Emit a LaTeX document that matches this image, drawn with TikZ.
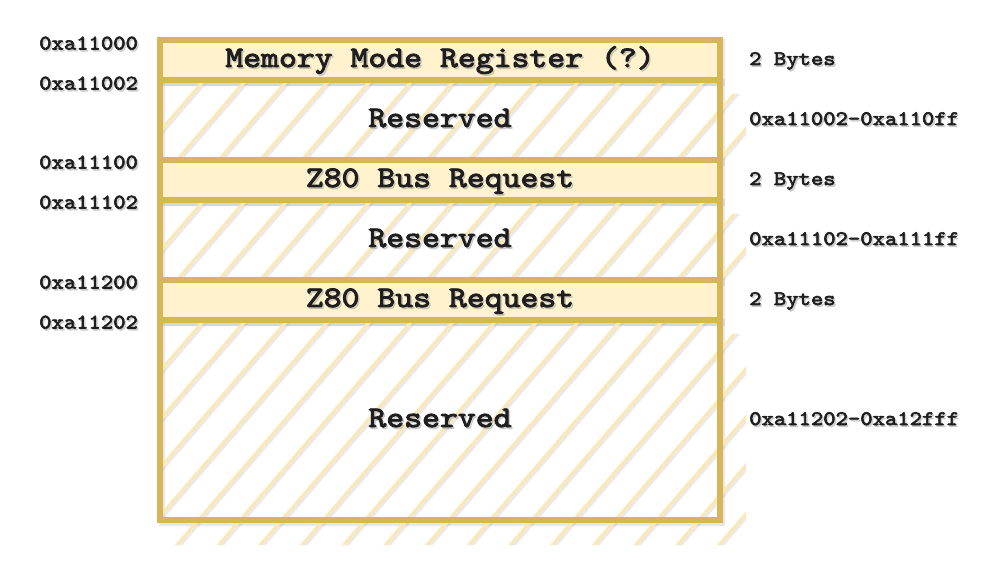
\documentclass[tikz,border=0pt]{standalone}
\usepackage{fontspec}
\newfontfamily\courierlike{lmmono10-regular.otf}[FakeBold=3, FakeStretch=1.14]
\usetikzlibrary{calc}
\definecolor{cream}{HTML}{FFF2CC}
\definecolor{gold}{HTML}{D6B656}
\definecolor{hatchc}{HTML}{FBE8B8}
\definecolor{inkc}{HTML}{1E1E1E}
\newcommand\shtxt[5]{% style, name, anchor, position, text
  \node[#1, anchor=#3, text=gray!70, opacity=0.45] at ($(#4)+(1.5,1.8)$) {#5};
  \node[#1, anchor=#3] (#2) at (#4) {#5};}
\newcommand\cursorfont[1]{\courierlike\bfseries\fontsize{#1}{#1}\selectfont}
\tikzset{
  rowbox/.style={draw=gold, line width=6.5bp, minimum width=560bp, inner sep=0pt},
  creambox/.style={rowbox, fill=cream},
  hatchbox/.style={rowbox},
  boxshadow/.style={draw=gray!60, opacity=0.3, line width=6.5bp},
  hatchline/.style={draw=hatchc, line width=3.3bp},
  hatchshadow/.style={draw=gray!60, opacity=0.28, line width=3.3bp},
  sidetxt/.style={font=\cursorfont{20.7}, text=inkc, inner sep=0pt},
  rowtxt/.style={font=\cursorfont{30}, text=inkc, inner sep=0pt}
}
\begin{document}
\begin{tikzpicture}[x=1bp,y=-1bp]
\useasboundingbox (0,0) rectangle (997,561);
% box shadows
\foreach \t/\b in {40/80,80/160,160/200,200/280,280/320,320/520}{
  \draw[boxshadow] (162,\t+2.5) rectangle (722,\b+2.5);
}
% hatching
\foreach \T/\C in {80/160,200/280,320/545}{
  \begin{scope}
    \clip (163,\T) rectangle (720,\C) (720,\T+14) rectangle (746,\C);
    \foreach \k in {-2,...,20}{
      \draw[hatchshadow] ({206+41.7*\k+8.63},{\T-10+2}) -- ({206+41.7*\k-0.863*(\C-\T+10)},{\C+10+2});
      \draw[hatchline] ({204.3+41.7*\k+8.63},{\T-10}) -- ({204.3+41.7*\k-0.863*(\C-\T+10)},{\C+10});
    }
  \end{scope}
}
% rows
\node[creambox, minimum height=40bp] (r1) at (440,60) {};
\node[hatchbox, minimum height=80bp] (r2) at (440,120) {};
\node[creambox, minimum height=40bp] (r3) at (440,180) {};
\node[hatchbox, minimum height=80bp] (r4) at (440,240) {};
\node[creambox, minimum height=40bp] (r5) at (440,300) {};
\node[hatchbox, minimum height=200bp] (r6) at (440,420) {};
% row labels
\shtxt{rowtxt}{t1}{base}{440,67}{Memory Mode Register (?)}
\shtxt{rowtxt}{t2}{base}{440,127}{Reserved}
\shtxt{rowtxt}{t3}{base}{440,187}{Z80 Bus Request}
\shtxt{rowtxt}{t4}{base}{440,247}{Reserved}
\shtxt{rowtxt}{t5}{base}{440,307}{Z80 Bus Request}
\shtxt{rowtxt}{t6}{base}{440,427}{Reserved}
% left addresses
\shtxt{sidetxt}{a1}{base west}{39,49.5}{0xa11000}
\shtxt{sidetxt}{a2}{base west}{39,89.5}{0xa11002}
\shtxt{sidetxt}{a3}{base west}{39,168.5}{0xa11100}
\shtxt{sidetxt}{a4}{base west}{39,208.5}{0xa11102}
\shtxt{sidetxt}{a5}{base west}{39,288.5}{0xa11200}
\shtxt{sidetxt}{a6}{base west}{39,328.5}{0xa11202}
% right sizes
\shtxt{sidetxt}{s1}{base west}{749,65}{2 Bytes}
\shtxt{sidetxt}{s2}{base west}{749,125}{0xa11002-0xa110ff}
\shtxt{sidetxt}{s3}{base west}{749,185}{2 Bytes}
\shtxt{sidetxt}{s4}{base west}{749,245}{0xa11102-0xa111ff}
\shtxt{sidetxt}{s5}{base west}{749,305}{2 Bytes}
\shtxt{sidetxt}{s6}{base west}{749,425}{0xa11202-0xa12fff}
\end{tikzpicture}
\end{document}
